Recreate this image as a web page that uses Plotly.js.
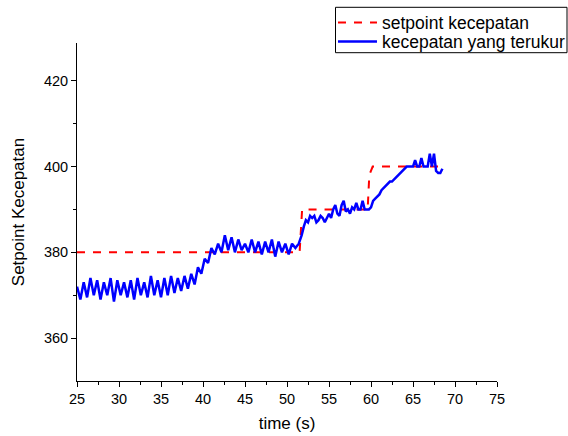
<!DOCTYPE html>
<html>
<head>
<meta charset="utf-8">
<script src="https://cdn.plot.ly/plotly-3.0.1.min.js"></script>
<style>html,body{margin:0;padding:0;background:#fff;}#chart{width:568px;height:436px;}</style>
</head>
<body>
<div id="chart"></div>
<script>
const setpointTime = [25, 51.5, 51.8, 59.6, 59.8, 60.2, 68.3];
const setpointValue = [380, 380, 390, 390, 398, 400, 400];

const measuredTime = [
  25.0, 25.4, 25.8, 26.2, 26.6, 27.0, 27.4, 27.8, 28.2, 28.6, 29.0, 29.4,
  29.8, 30.2, 30.6, 31.0, 31.4, 31.8, 32.2, 32.6, 33.0, 33.4, 33.8, 34.2,
  34.6, 35.0, 35.4, 35.8, 36.2, 36.6, 37.0, 37.4, 37.8, 38.2, 38.6, 39.0,
  39.4, 39.8, 40.2, 40.6, 41.0, 41.4, 41.8, 42.2, 42.6, 43.0, 43.4, 43.8,
  44.2, 44.6, 45.0, 45.4, 45.8, 46.2, 46.6, 47.0, 47.4, 47.8, 48.2, 48.6,
  49.0, 49.4, 49.8, 50.2, 50.6, 51.0, 51.4, 51.75,
  52, 52.25, 52.5, 52.75, 53, 53.25, 53.5, 53.75, 54, 54.25, 54.5, 54.75,
  55, 55.25, 55.5, 55.75, 56, 56.25, 56.5, 56.75, 57, 57.25, 57.5, 57.75,
  58, 58.25, 58.5, 58.75, 59, 59.25, 59.5, 59.75, 60, 60.25, 60.5, 60.75,
  61, 61.25, 61.5, 61.75, 62, 62.25, 62.5, 62.75, 63, 63.25, 63.5, 63.75,
  64, 64.25, 64.5, 64.75, 65, 65.25, 65.5, 65.75,
  66, 66.25, 66.5, 66.75, 67, 67.25, 67.5, 67.75, 68, 68.25, 68.5
];
const measuredValue = [
  372, 369, 373, 369.5, 374, 370, 373.5, 369, 373, 370, 374, 368.5,
  373.5, 370, 373, 369.5, 373.5, 369, 374, 370, 373, 369.5, 374.5, 370,
  373.5, 369.5, 374, 370, 374.5, 370.5, 374, 371, 374.5, 371.5, 375, 372.5,
  376.5, 375, 378.5, 377.5, 381, 379.5, 382, 380, 384, 380.5, 383.5, 380,
  383, 380.5, 382, 380, 383, 380, 382.5, 379.5, 382.5, 380, 383, 379,
  382.5, 380, 382, 379.5, 382, 381, 382, 384,
  386, 387.5, 387, 388.5, 388, 388.5, 387, 387.5, 388.5, 388, 387, 388,
  389, 388, 390, 391, 389, 388.5, 391, 392, 389.5, 390, 389, 390.5,
  390, 391.5, 390, 390, 392, 390, 390, 390, 390.5, 392, 392.5, 393,
  393.5, 394.5, 395, 395.5, 396, 396.5, 396.5, 397, 397.5, 398, 398.5, 399,
  399.5, 400, 400, 400, 400, 401.5, 400, 400,
  402, 400, 400, 400, 403, 400, 403, 399, 398.5, 398.5, 399.5
];

const xTickStart = 25, xTickEnd = 75;
const yTickValues = [360, 380, 400, 420];
const yMinorValues = [370, 390, 410];

const font = 'Liberation Sans, Arial, sans-serif';
const legendFont = {family: font, size: 17.5, color: '#000'};

Plotly.newPlot('chart', [
  {
    x: setpointTime, y: setpointValue, type: 'scatter', mode: 'lines',
    name: 'setpoint kecepatan', legend: 'legend',
    line: {color: '#ff0000', width: 2, dash: '8px,8px'}
  },
  {
    x: measuredTime, y: measuredValue, type: 'scatter', mode: 'lines',
    name: 'kecepatan yang terukur', legend: 'legend2',
    line: {color: '#0000ff', width: 2.5}
  }
], {
  width: 568, height: 436,
  paper_bgcolor: '#ffffff', plot_bgcolor: '#ffffff',
  margin: {l: 77, r: 71, t: 43, b: 55, autoexpand: false},
  font: {family: font, size: 14, color: '#000'},
  showlegend: true,
  legend: {
    x: 0.6095, y: 1.1134, xanchor: 'left', yanchor: 'top',
    bgcolor: 'rgba(0,0,0,0)', borderwidth: 0,
    font: legendFont, itemwidth: 39
  },
  legend2: {
    x: 0.6095, y: 1.0571, xanchor: 'left', yanchor: 'top',
    bgcolor: 'rgba(0,0,0,0)', borderwidth: 0,
    font: legendFont, itemwidth: 39
  },
  shapes: [
    {type: 'rect', xref: 'paper', yref: 'paper', x0: 0.6155, x1: 1.1667, y0: 0.9713, y1: 1.1056,
     line: {color: '#000', width: 1}, fillcolor: 'rgba(0,0,0,0)', layer: 'above'}
  ],
  xaxis: {
    range: [xTickStart, xTickEnd], tick0: 25, dtick: 5,
    showgrid: false, zeroline: false, showline: true, linecolor: '#000', linewidth: 1,
    ticks: 'outside', ticklen: 5, tickcolor: '#000',
    minor: {dtick: 2.5, ticks: 'outside', ticklen: 3, tickcolor: '#000', showgrid: false},
    tickfont: {family: font, size: 14.5},
    title: {text: 'time (s)', font: {family: font, size: 17}, standoff: 10}
  },
  yaxis: {
    range: [350, 428.8], tickvals: yTickValues,
    showgrid: false, zeroline: false, showline: true, linecolor: '#000', linewidth: 1,
    ticks: 'outside', ticklen: 5, tickcolor: '#000',
    minor: {tickvals: yMinorValues, ticks: 'outside', ticklen: 3, tickcolor: '#000', showgrid: false},
    tickfont: {family: font, size: 14.5},
    title: {text: 'Setpoint Kecepatan', font: {family: font, size: 17}, standoff: 14}
  }
}, {displayModeBar: false, staticPlot: true});
</script>
</body>
</html>
